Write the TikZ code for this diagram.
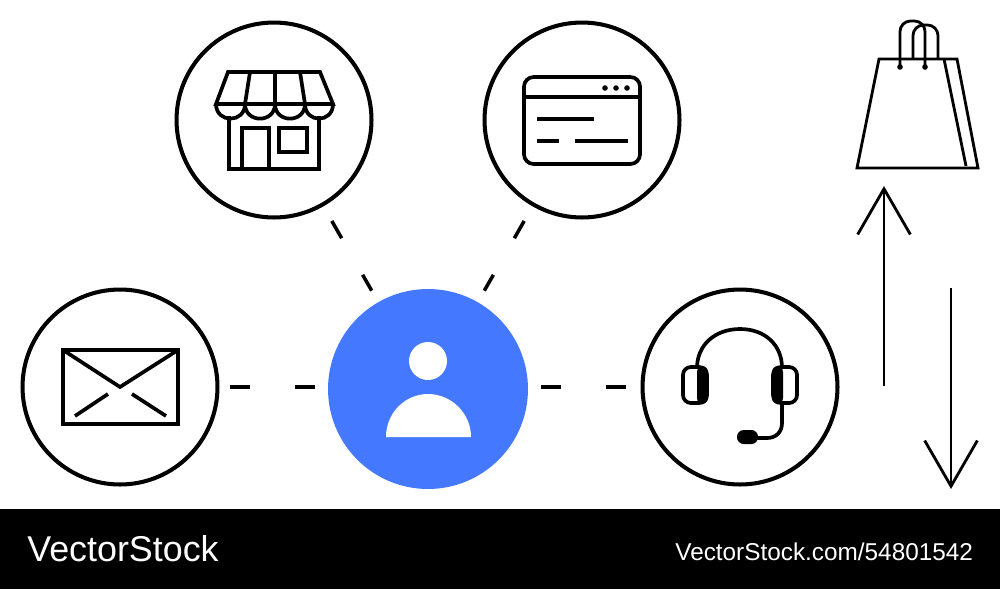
\documentclass[tikz,border=0pt]{standalone}
\usepackage{fontspec}
\setmainfont{Liberation Sans}
\usetikzlibrary{arrows.meta}
\definecolor{hubblue}{HTML}{4479FF}

\begin{document}
\begin{tikzpicture}[x=0.02cm, y=-0.02cm,
    ring/.style={circle, draw, line width=2.3pt, minimum size=3.9cm, inner sep=0pt},
    link/.style={line width=2pt, dash pattern=on 11.3pt off 25.5pt},
    slant/.style={line width=2pt, dash pattern=on 11.3pt off 24pt, shorten <=9.6pt, shorten >=7.4pt},
    icon/.style={line width=2.1pt, line join=miter},
    thin icon/.style={line width=1.6pt},
    long arrow/.style={line width=1.6pt, -{Straight Barb[length=26pt, width=30pt, line width=1.6pt]}},
    mark text/.style={text=white, anchor=base west, inner sep=0pt}]
    \useasboundingbox (0,0) rectangle (1000,589);

    \node[ring] (store) at (274,120) {};
    \node[ring] (window) at (582,120) {};
    \node[ring] (mail) at (120,387) {};
    \node[ring] (headset) at (740,387) {};
    \node[circle, fill=hubblue, minimum size=4cm, inner sep=0pt] (hub) at (428,389) {};

    \draw[link, shorten <=6.2pt, shorten >=7.4pt] (mail) -- (mail -| hub.west);
    \draw[link, shorten <=7.4pt, shorten >=8.5pt] (headset -| hub.east) -- (headset);
    \draw[slant] (store) -- (hub);
    \draw[slant] (window) -- (hub);

    \fill[white] (428,361) circle (19);
    \fill[white] (386,437) .. controls (386,413) and (405,394) .. (428,394) .. controls (451,394) and (471,413) .. (471,437) -- cycle;

    \draw[icon] (216,104) -- (228,72) -- (320,72) -- (333,104) -- cycle;
    \draw[icon] (250,72) -- (245,104) (275,72) -- (275,104) (300,72) -- (305,104);
    \foreach \a/\b in {216/245,245/275,275/305,305/333}
        \draw[icon] (\a,104) .. controls (\a,123.5) and (\b,123.5) .. (\b,104);
    \draw[icon] (229,116) -- (229,169) -- (319,169) -- (319,116);
    \draw[icon] (242,169) -- (242,128) -- (269,128) -- (269,169);
    \draw[icon] (279,128) rectangle (307,152);

    \draw[icon, rounded corners=5.5pt] (524,77) rectangle (640,164);
    \draw[icon] (524,97) -- (640,97);
    \foreach \x in {605,616,627}
        \fill (\x,88) circle (2.8);
    \draw[icon] (537,119) -- (594,119);
    \draw[icon] (537,141) -- (559,141);
    \draw[icon] (575,141) -- (628,141);

    \draw[icon] (63,350) rectangle (178,424);
    \draw[icon] (63,350) -- (120,387) -- (178,350);
    \draw[icon] (75,416) -- (108,394);
    \draw[icon] (132,394) -- (166,416);

    \draw[icon] (697,368) .. controls (697,345) and (715,329) .. (740,329) .. controls (765,329) and (782,345) .. (782,368);
    \draw[icon, rounded corners=4.5pt] (683,367) rectangle (707,403);
    \draw[icon, rounded corners=4.5pt] (773,367) rectangle (797,403);
    \fill[rounded corners=3.5pt] (697,366) -- (708,366) -- (708,404) -- (697,404) -- cycle;
    \fill[rounded corners=3.5pt] (772,366) -- (783,366) -- (783,404) -- (772,404) -- cycle;
    \draw[icon] (782,403) -- (782,423) .. controls (782,432) and (776,438) .. (767,438) -- (755,438);
    \fill[rounded corners=3.8pt] (737,430) rectangle (758,444);

    \draw[thin icon] (879,59) -- (957,59) -- (978,168) -- (857,168) -- cycle;
    \draw[thin icon] (944,59) -- (966,166);
    \draw[thin icon, rounded corners=6pt] (900,67) -- (900,21) -- (925,21) -- (925,67);
    \draw[thin icon, rounded corners=6pt] (913,59) -- (913,25) -- (938,25) -- (938,59);
    \fill (900,67) circle (2.8);
    \fill (925,67) circle (2.8);

    \coordinate (up start) at (884,386);
    \coordinate (up tip) at (884,186);
    \coordinate (down start) at (951,288);
    \coordinate (down tip) at (951,489);
    \draw[long arrow] (up start) -- (up tip);
    \draw[long arrow] (down start) -- (down tip);

    \fill[black] (0,509) rectangle (1000,589);
    \node[mark text, font=\fontsize{20.4}{24}\selectfont] (brand) at (27,561) {VectorStock};
    \node[mark text, font=\fontsize{13.85}{16}\selectfont] (stockid) at (675,560) {VectorStock.com/54801542};
\end{tikzpicture}
\end{document}
